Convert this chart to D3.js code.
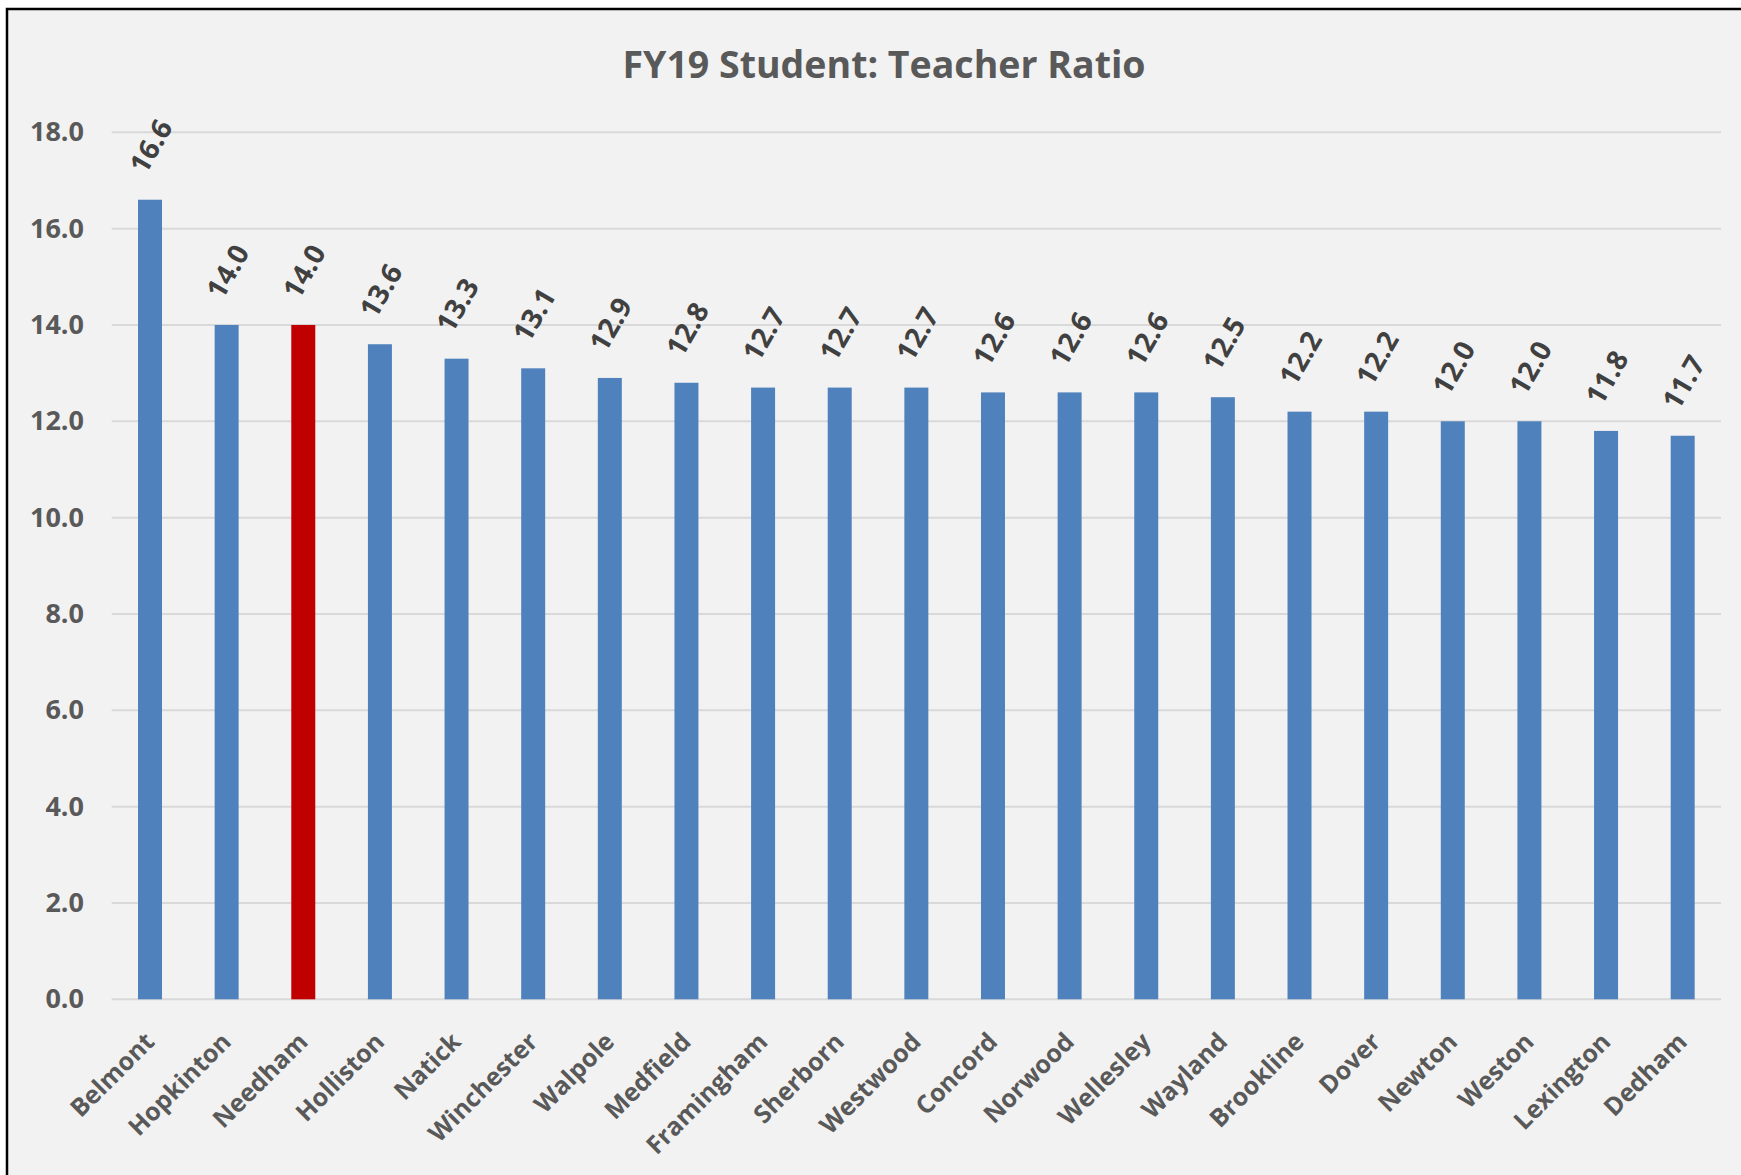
<!DOCTYPE html>
<head>
  <meta charset="utf-8">
  <script src="https://d3js.org/d3.v7.min.js"></script>
  <style>
    body { margin: 0; background: #fff; }
    svg { display: block; font-family: 'Open Sans', sans-serif; }
  </style>
</head>
<body>
  <svg width="1741" height="1175"></svg>
  <script>
    const towns = ['Belmont', 'Hopkinton', 'Needham', 'Holliston', 'Natick', 'Winchester', 'Walpole',
      'Medfield', 'Framingham', 'Sherborn', 'Westwood', 'Concord', 'Norwood', 'Wellesley', 'Wayland',
      'Brookline', 'Dover', 'Newton', 'Weston', 'Lexington', 'Dedham'];
    const ratios = [16.6, 14.0, 14.0, 13.6, 13.3, 13.1, 12.9, 12.8, 12.7, 12.7, 12.7, 12.6, 12.6, 12.6,
      12.5, 12.2, 12.2, 12.0, 12.0, 11.8, 11.7];
    const highlight = 'Needham';
    const yTicks = [0, 2, 4, 6, 8, 10, 12, 14, 16, 18];
    const title = 'FY19 Student: Teacher Ratio';

    const svg = d3.select('svg');

    // chart frame
    svg.append('rect')
      .attr('x', 7).attr('y', 9)
      .attr('width', 1800).attr('height', 1300)
      .attr('fill', '#f2f2f2')
      .attr('stroke', '#000')
      .attr('stroke-width', 2.5);

    const x = d3.scaleBand()
      .domain(towns)
      .range([111.7, 1721])
      .paddingInner(0.687)
      .paddingOuter(0.3435);

    const y = d3.scaleLinear().domain([0, 18]).range([999.3, 132.3]);

    // gridlines
    svg.append('g').selectAll('line')
      .data(yTicks).enter().append('line')
      .attr('x1', 111.7).attr('x2', 1721)
      .attr('y1', d => y(d)).attr('y2', d => y(d))
      .attr('stroke', '#d9d9d9')
      .attr('stroke-width', 2);

    // y axis labels
    const yAxis = svg.append('g')
      .attr('transform', 'translate(84,0)')
      .call(d3.axisLeft(y).tickValues(yTicks).tickFormat(d3.format('.1f')).tickSize(0).tickPadding(0));
    yAxis.select('.domain').remove();
    yAxis.selectAll('text')
      .attr('font-family', "'Open Sans', sans-serif")
      .attr('font-size', 27)
      .attr('font-weight', 'bold')
      .attr('fill', '#595959');

    const data = towns.map((t, i) => ({ town: t, value: ratios[i] }));

    // bars
    svg.append('g').selectAll('rect')
      .data(data).enter().append('rect')
      .attr('x', d => x(d.town))
      .attr('width', x.bandwidth())
      .attr('y', d => y(d.value))
      .attr('height', d => y(0) - y(d.value))
      .attr('fill', d => d.town === highlight ? '#c00000' : '#4f81bd');

    // value labels
    svg.append('g').selectAll('text')
      .data(data).enter().append('text')
      .attr('transform', d => `translate(${x(d.town) + x.bandwidth() / 2},${y(d.value) - 54})rotate(-60)`)
      .attr('text-anchor', 'middle')
      .attr('dominant-baseline', 'central')
      .attr('font-size', 28)
      .attr('font-weight', 'bold')
      .attr('fill', '#404040')
      .text(d => d3.format('.1f')(d.value));

    // category labels
    svg.append('g').selectAll('text')
      .data(data).enter().append('text')
      .attr('transform', d => `translate(${x(d.town) + x.bandwidth() / 2 + 6},${y(0) + 44})rotate(-45)`)
      .attr('text-anchor', 'end')
      .attr('font-size', 25)
      .attr('font-weight', 'bold')
      .attr('fill', '#595959')
      .text(d => d.town);

    // title
    svg.append('text')
      .attr('x', 884).attr('y', 78)
      .attr('text-anchor', 'middle')
      .attr('font-size', 37.5)
      .attr('font-weight', 'bold')
      .attr('fill', '#595959')
      .text(title);
  </script>
</body>
